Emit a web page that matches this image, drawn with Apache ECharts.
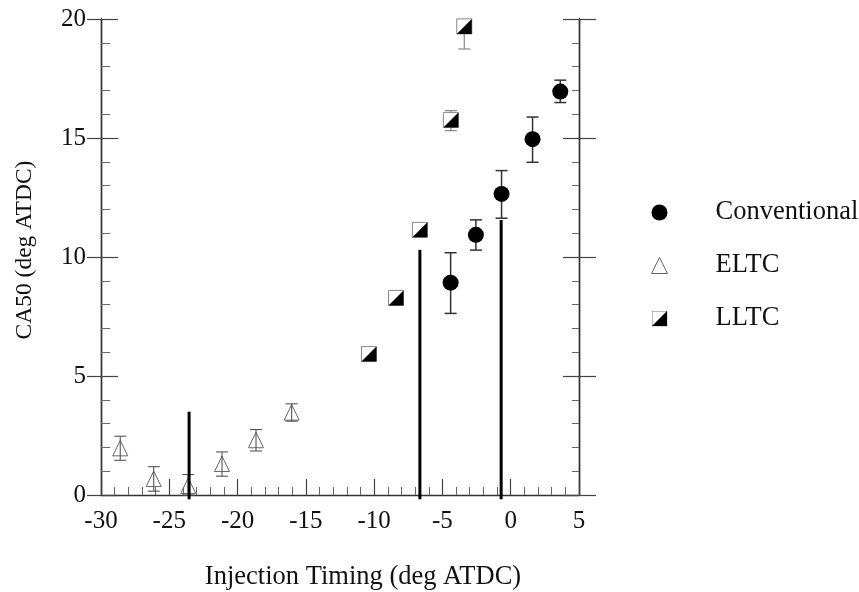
<!DOCTYPE html>
<html>
<head>
<meta charset="utf-8">
<script src="https://cdn.jsdelivr.net/npm/echarts@6/dist/echarts.min.js"></script>
<style>html,body{margin:0;padding:0;background:#fff}#c{width:859px;height:592px}</style>
</head>
<body>
<div id="c"></div>
<script>
// ---- data ----
var convX    = [-4.4, -2.55, -0.67, 1.6, 3.63];
var convY    = [8.92, 10.93, 12.65, 14.95, 16.95];
var convLow  = [7.63, 10.29, 11.63, 13.98, 16.49];
var convHigh = [10.18, 11.56, 13.63, 15.88, 17.43];

var eltcX    = [-28.59, -26.14, -23.61, -21.14, -18.65, -16.04];
var eltcY    = [1.96, 0.67, 0.38, 1.30, 2.30, 3.46];
var eltcLow  = [1.46, 0.16, 0.0, 0.79, 1.85, 3.10];
var eltcHigh = [2.47, 1.19, 0.86, 1.81, 2.75, 3.83];

var lltcX    = [-10.38, -8.4, -6.65, -4.38, -3.4];
var lltcY    = [5.92, 8.28, 11.14, 15.76, 19.69];
var lltcLow  = [5.92, 8.28, 11.14, 15.31, 18.74];
var lltcHigh = [5.92, 8.28, 11.14, 16.15, 19.9];

var refLineX      = [-23.55, -6.65, -0.7];
var refLineTop    = [3.5, 10.3, 11.55];
var refLineBottom = [-0.18, -0.18, -0.18];

var xTicks = [-30, -25, -20, -15, -10, -5, 0, 5];
var yTicks = [0, 5, 10, 15, 20];
var seriesNames = ['Conventional', 'ELTC', 'LLTC'];

// ---- helpers ----
function zip(xs, ys, lo, hi) {
  return xs.map(function (x, i) { return [x, ys[i], lo[i], hi[i]]; });
}
var FONT = '"Liberation Serif", "Times New Roman", serif';

function errBar(api, color, width) {
  var p = api.coord([api.value(0), api.value(1)]);
  var lo = api.coord([api.value(0), api.value(2)]);
  var hi = api.coord([api.value(0), api.value(3)]);
  var els = [];
  if (Math.abs(lo[1] - hi[1]) > 0.5) {
    var cw = 6;
    var st = { stroke: color, lineWidth: width, fill: null };
    els.push({ type: 'line', shape: { x1: p[0], y1: hi[1], x2: p[0], y2: lo[1] }, style: st });
    els.push({ type: 'line', shape: { x1: p[0] - cw, y1: hi[1], x2: p[0] + cw, y2: hi[1] }, style: st });
    els.push({ type: 'line', shape: { x1: p[0] - cw, y1: lo[1], x2: p[0] + cw, y2: lo[1] }, style: st });
  }
  return { p: p, els: els };
}

var lltcIcon = 'image://data:image/svg+xml;charset=utf-8,' + encodeURIComponent(
  "<svg xmlns='http://www.w3.org/2000/svg' width='16' height='16'>" +
  "<rect x='0.5' y='0.5' width='15' height='15' fill='white' stroke='#777'/>" +
  "<path d='M15.5 0.5 L15.5 15.5 L0.5 15.5 Z' fill='black'/></svg>");

var yAxisBase = {
  type: 'value', min: 0, max: 20, interval: 5,
  splitLine: { show: false },
  axisLine: { show: true, onZero: false, lineStyle: { color: '#333', width: 1.4 } }
};

var option = {
  animation: false,
  backgroundColor: '#fff',
  grid: { left: 101, right: 280, top: 19, bottom: 97, containLabel: false, outerBoundsMode: 'none' },
  legend: {
    orient: 'vertical', left: 651, top: 199, padding: 0,
    itemWidth: 16, itemHeight: 16, itemGap: 26,
    textStyle: { fontFamily: FONT, fontSize: 26.5, color: '#111', padding: [0, 0, 0, 43] },
    data: [
      { name: 'Conventional', icon: 'circle', itemStyle: { color: '#000' } },
      { name: 'ELTC', icon: 'triangle', itemStyle: { color: '#fff', borderColor: '#666', borderWidth: 1 } },
      { name: 'LLTC', icon: lltcIcon }
    ]
  },
  xAxis: {
    type: 'value', min: -30, max: 5, interval: 5,
    name: 'Injection Timing (deg ATDC)', nameLocation: 'middle', nameGap: 69,
    nameTextStyle: { fontFamily: FONT, fontSize: 26.5, color: '#111', padding: [0, 0, 0, 46] },
    splitLine: { show: false },
    axisLine: { show: true, onZero: false, lineStyle: { color: '#333', width: 1.4 } },
    axisTick: { show: true, inside: true, length: 16, lineStyle: { color: '#444', width: 1.2 } },
    minorTick: { show: true, splitNumber: 5, length: 8, lineStyle: { color: '#666', width: 1 } },
    axisLabel: { fontFamily: FONT, fontSize: 25, color: '#111', margin: 14 }
  },
  yAxis: [
    Object.assign({}, yAxisBase, {
      position: 'left',
      name: 'CA50 (deg ATDC)', nameLocation: 'middle', nameGap: 64,
      nameTextStyle: { fontFamily: FONT, fontSize: 23.5, color: '#111', padding: [0, 0, 0, 14] },
      axisTick: { show: true, inside: false, length: 14, lineStyle: { color: '#444', width: 1.2 } },
      axisLabel: { fontFamily: FONT, fontSize: 25, color: '#111', margin: 15 }
    }),
    Object.assign({}, yAxisBase, {
      position: 'left',
      axisTick: { show: true, inside: true, length: 17, lineStyle: { color: '#444', width: 1.2 } },
      minorTick: { show: true, splitNumber: 5, length: 9, lineStyle: { color: '#666', width: 1 } },
      axisLabel: { show: false }
    }),
    Object.assign({}, yAxisBase, {
      position: 'right',
      axisTick: { show: true, inside: true, length: 16, lineStyle: { color: '#444', width: 1.2 } },
      minorTick: { show: true, splitNumber: 5, length: 7, lineStyle: { color: '#666', width: 1 } },
      axisLabel: { show: false }
    }),
    Object.assign({}, yAxisBase, {
      position: 'right',
      axisTick: { show: true, inside: false, length: 17, lineStyle: { color: '#444', width: 1.2 } },
      axisLabel: { show: false }
    })
  ],
  series: [
    {
      name: 'ELTC', type: 'custom', yAxisIndex: 0, clip: false,
      data: zip(eltcX, eltcY, eltcLow, eltcHigh),
      renderItem: function (params, api) {
        var r = errBar(api, '#555', 1.1);
        var p = r.p, h = 8;
        var tri = { type: 'polygon', shape: { points: [[p[0], p[1] - h], [p[0] + 7.5, p[1] + h - 0.5], [p[0] - 7.5, p[1] + h - 0.5]] },
          style: { fill: 'rgba(255,255,255,0)', stroke: '#666', lineWidth: 1 } };
        return { type: 'group', children: [tri].concat(r.els) };
      }
    },
    {
      name: 'Reference', type: 'custom', yAxisIndex: 0, clip: false,
      data: refLineX.map(function (x, i) { return [x, refLineBottom[i], refLineTop[i]]; }),
      renderItem: function (params, api) {
        var a = api.coord([api.value(0), api.value(1)]);
        var b = api.coord([api.value(0), api.value(2)]);
        return { type: 'line', shape: { x1: a[0], y1: a[1], x2: b[0], y2: b[1] },
          style: { stroke: '#000', lineWidth: 3 } };
      }
    },
    {
      name: 'LLTC', type: 'custom', yAxisIndex: 0, clip: false,
      data: zip(lltcX, lltcY, lltcLow, lltcHigh),
      renderItem: function (params, api) {
        var r = errBar(api, '#888', 1.2);
        var p = r.p, s = 8;
        var box = { type: 'rect', shape: { x: p[0] - s + 0.5, y: p[1] - s + 0.5, width: 2 * s - 1, height: 2 * s - 1 },
          style: { fill: '#fff', stroke: '#888', lineWidth: 1 } };
        var half = { type: 'polygon', shape: { points: [[p[0] + s - 0.5, p[1] - s + 0.5], [p[0] + s - 0.5, p[1] + s - 0.5], [p[0] - s + 0.5, p[1] + s - 0.5]] },
          style: { fill: '#000' } };
        return { type: 'group', children: r.els.concat([box, half]) };
      }
    },
    {
      name: 'Conventional', type: 'custom', yAxisIndex: 0, clip: false,
      data: zip(convX, convY, convLow, convHigh),
      renderItem: function (params, api) {
        var r = errBar(api, '#333', 1.5);
        var p = r.p;
        var dot = { type: 'circle', shape: { cx: p[0], cy: p[1], r: 8 }, style: { fill: '#000' } };
        return { type: 'group', children: r.els.concat([dot]) };
      }
    }
  ]
};

var chart = echarts.init(document.getElementById('c'), null, { renderer: 'canvas' });
chart.setOption(option);
</script>
</body>
</html>
